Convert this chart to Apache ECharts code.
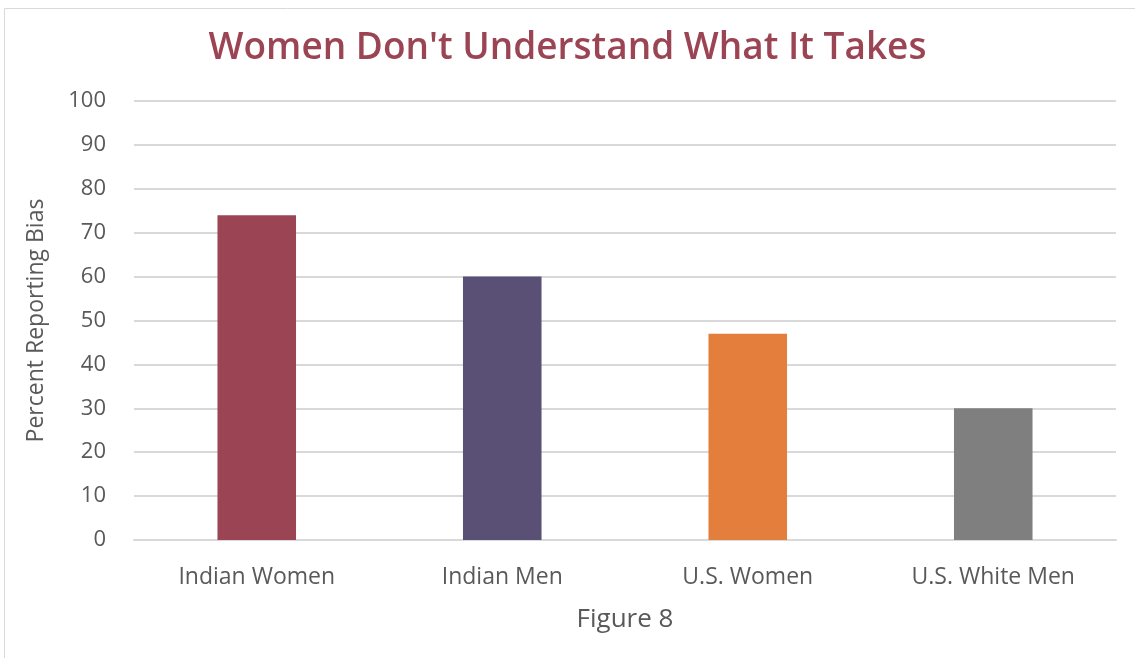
<!DOCTYPE html>
<html>
<head>
<meta charset="utf-8">
<script src="https://cdn.jsdelivr.net/npm/echarts@6/dist/echarts.min.js"></script>
<style>html,body{margin:0;padding:0;background:#fff;}#c{width:1135px;height:658px;}</style>
</head>
<body>
<div id="c"></div>
<script>
const categories = ['Indian Women', 'Indian Men', 'U.S. Women', 'U.S. White Men'];
const values = [74, 60, 47, 30];
const barColors = ['#9B4554', '#5A5076', '#E47E3D', '#7F7F7F'];
const titleText = "Women Don't Understand What It Takes";
const yName = 'Percent Reporting Bias';
const xName = 'Figure 8';

const chart = echarts.init(document.getElementById('c'), null, {renderer: 'canvas'});
chart.setOption({
  animation: false,
  backgroundColor: '#fff',
  graphic: [{
    type: 'rect', shape: {x: 4.5, y: 8.5, width: 1200, height: 700},
    style: {fill: 'none', stroke: '#d9d9d9', lineWidth: 1}, silent: true
  }],
  title: {
    text: titleText, left: 'center', top: 25,
    textStyle: {color: '#9B4554', fontFamily: 'Open Sans', fontWeight: 600, fontSize: 37}
  },
  grid: {left: 134, right: 19, top: 101, bottom: 118},
  xAxis: {
    type: 'category', data: categories,
    name: xName, nameLocation: 'middle', nameGap: 67,
    nameTextStyle: {color: '#595959', fontFamily: 'Open Sans', fontSize: 26},
    axisLine: {lineStyle: {color: '#d9d9d9', width: 2}},
    axisTick: {show: false},
    axisLabel: {color: '#595959', fontFamily: 'Open Sans', fontSize: 23, margin: 26}
  },
  yAxis: {
    type: 'value', min: 0, max: 100, interval: 10,
    name: yName, nameLocation: 'middle', nameGap: 86, nameRotate: 90,
    nameTextStyle: {color: '#595959', fontFamily: 'Open Sans', fontSize: 23},
    axisLine: {show: false}, axisTick: {show: false},
    axisLabel: {color: '#595959', fontFamily: 'Open Sans', fontSize: 22, margin: 28},
    splitLine: {lineStyle: {color: '#d9d9d9', width: 2}}
  },
  series: [{
    type: 'bar', barWidth: '32%',
    data: values.map((v, i) => ({value: v, itemStyle: {color: barColors[i]}}))
  }]
});
</script>
</body>
</html>
